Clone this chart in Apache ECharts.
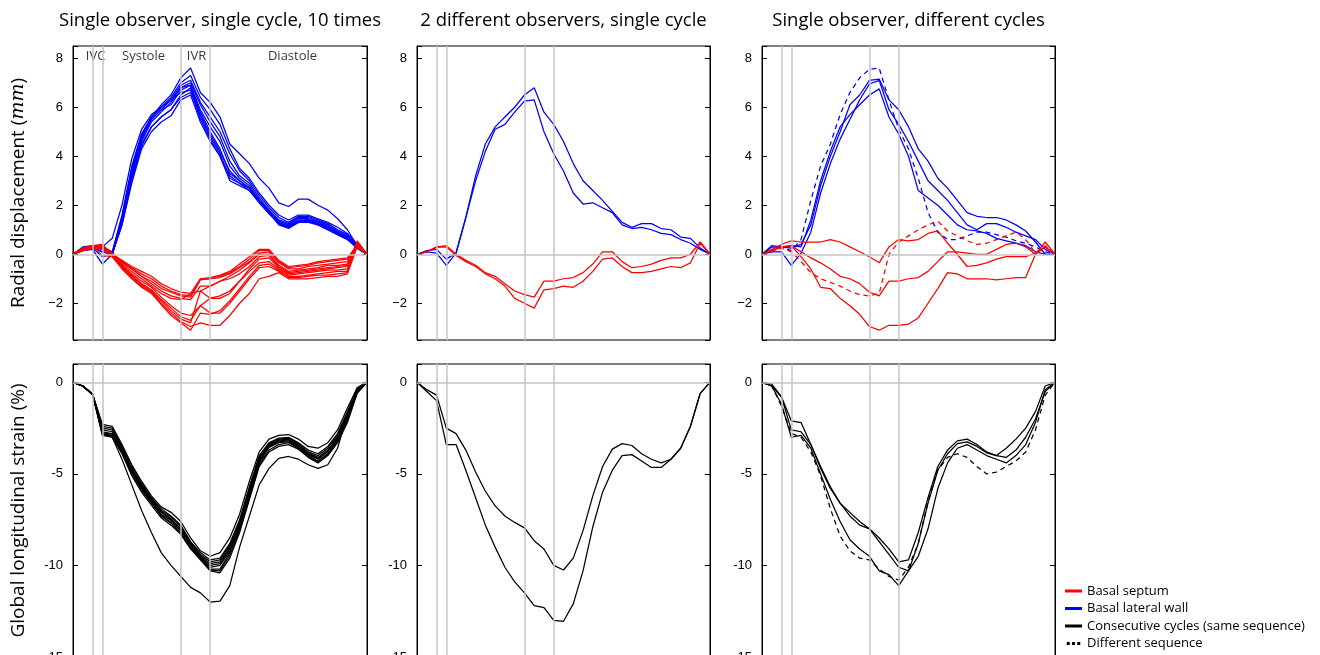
<!DOCTYPE html>
<html>
<head>
<meta charset="utf-8">
<title>Radial displacement and GLS reproducibility</title>
<script src="https://cdn.jsdelivr.net/npm/echarts@6.0.0/dist/echarts.min.js"></script>
<style>
  html, body { margin: 0; padding: 0; background: #fff; }
  #chart { width: 1320px; height: 655px; }
</style>
</head>
<body>
<div id="chart"></div>
<script>
// frame index over one cardiac cycle (x axis has no labels)
var frames = [0,1,2,3,4,5,6,7,8,9,10,11,12,13,14,15,16,17,18,19,20,21,22,23,24,25,26,27,28,29,30];

// phase boundaries (gray vertical lines) and phase names
var phaseMarks = [2, 3, 11, 14];
var phaseNames = ['IVC', 'Systole', 'IVR', 'Diastole'];
var phaseNamePos = [2.3, 7.2, 12.6, 22.4];
var phaseNameY = 8.1;

var panelTitles = ['Single observer, single cycle, 10 times', '2 different observers, single cycle', 'Single observer, different cycles'];

// ---- radial displacement (mm), single observer, single cycle, 10 times
var lateralRepeat = [
  [0,0.25,0.3,0.3,0.1,1.6,3.6,4.9,5.6,6.1,6.5,7.2,7.6,6.6,6.2,5.6,4.5,4.1,3.7,3.1,2.7,2.1,1.95,2.25,2.25,2.0,1.8,1.45,1.0,0.35,0],
  [0,0.3,0.35,0.35,0.0,1.5,3.5,4.8,5.6,6.0,6.4,7.0,7.3,6.4,5.9,5.3,4.3,3.5,3.1,2.5,2.0,1.6,1.4,1.6,1.6,1.45,1.3,1.1,0.85,0.4,0],
  [0,0.2,0.3,0.3,0.05,1.4,3.3,4.7,5.5,5.9,6.3,6.9,7.1,6.2,5.6,5.0,4.1,3.4,3.0,2.4,1.9,1.5,1.3,1.55,1.55,1.4,1.25,1.0,0.8,0.35,0],
  [0,0.25,0.3,0.1,0.0,1.3,3.2,4.6,5.4,5.8,6.2,6.8,7.0,6.1,5.4,4.8,3.8,3.2,2.9,2.3,1.8,1.4,1.25,1.5,1.5,1.35,1.2,0.95,0.75,0.3,0],
  [0,0.2,0.25,-0.1,0.0,1.4,3.4,4.8,5.5,5.9,6.1,6.7,6.9,5.9,5.2,4.6,3.6,3.1,2.8,2.2,1.75,1.35,1.2,1.45,1.45,1.3,1.15,0.9,0.7,0.3,0],
  [0,0.15,0.2,-0.4,0.0,1.2,3.0,4.4,5.2,5.6,5.9,6.5,6.8,5.8,5.0,4.3,3.3,3.0,2.7,2.2,1.7,1.3,1.15,1.4,1.4,1.3,1.1,0.9,0.7,0.3,0],
  [0,0.2,0.3,0.25,0.05,1.5,3.5,4.9,5.6,6.0,6.3,6.8,6.9,5.6,4.8,4.1,3.1,2.9,2.6,2.1,1.65,1.25,1.1,1.35,1.35,1.25,1.05,0.85,0.65,0.3,0],
  [0,0.25,0.3,0.3,0.65,2.0,3.9,5.1,5.7,6.0,6.3,6.6,6.7,5.5,4.7,4.0,3.0,2.8,2.6,2.15,1.7,1.25,1.1,1.35,1.4,1.25,1.05,0.85,0.65,0.25,0],
  [0,0.2,0.3,0.2,0.0,1.3,3.1,4.5,5.2,5.6,5.9,6.4,6.6,5.7,4.9,4.2,3.4,3.0,2.7,2.2,1.7,1.2,1.05,1.3,1.3,1.2,1.0,0.8,0.6,0.25,0],
  [0,0.15,0.25,0.1,0.0,1.2,2.9,4.3,5.0,5.4,5.65,6.3,6.5,5.4,4.6,4.0,3.2,2.9,2.7,2.2,1.8,1.3,1.1,1.3,1.35,1.2,1.0,0.8,0.6,0.25,0]
];
var septumRepeat = [
  [0,0.2,0.3,0.35,0.0,-0.25,-0.5,-0.7,-0.9,-1.2,-1.4,-1.55,-1.6,-1.0,-0.95,-0.85,-0.7,-0.4,-0.1,0.2,0.2,-0.25,-0.5,-0.45,-0.4,-0.3,-0.25,-0.2,-0.15,0.35,0],
  [0,0.2,0.3,0.3,0.0,-0.3,-0.55,-0.8,-1.0,-1.3,-1.5,-1.65,-1.7,-1.0,-1.0,-0.9,-0.75,-0.5,-0.2,0.15,0.15,-0.3,-0.55,-0.5,-0.45,-0.35,-0.3,-0.25,-0.2,0.4,0],
  [0,0.15,0.3,0.35,0.05,-0.3,-0.6,-0.9,-1.1,-1.4,-1.55,-1.7,-1.75,-1.05,-1.0,-0.95,-0.8,-0.55,-0.3,0.05,0.1,-0.35,-0.6,-0.6,-0.5,-0.45,-0.4,-0.35,-0.3,0.4,0],
  [0,0.2,0.35,0.4,0.0,-0.35,-0.6,-0.9,-1.2,-1.5,-1.7,-1.8,-1.85,-1.3,-1.3,-1.1,-0.9,-0.65,-0.35,0.0,0.0,-0.45,-0.7,-0.65,-0.6,-0.55,-0.45,-0.45,-0.4,0.45,0],
  [0,0.25,0.35,0.3,-0.05,-0.4,-0.7,-1.0,-1.3,-1.6,-1.8,-1.85,-1.6,-1.5,-1.8,-1.8,-1.6,-1.1,-0.6,-0.2,-0.15,-0.55,-0.8,-0.75,-0.7,-0.65,-0.6,-0.55,-0.5,0.5,0],
  [0,0.2,0.3,0.25,-0.05,-0.45,-0.8,-1.1,-1.35,-1.75,-2.1,-2.4,-2.5,-2.1,-1.8,-1.7,-1.5,-1.1,-0.7,-0.35,-0.3,-0.6,-0.85,-0.8,-0.75,-0.7,-0.65,-0.65,-0.6,0.45,0],
  [0,0.15,0.25,0.2,-0.1,-0.5,-0.85,-1.2,-1.45,-1.85,-2.2,-2.55,-2.7,-2.1,-2.4,-2.4,-2.0,-1.5,-1.0,-0.55,-0.5,-0.7,-0.9,-0.9,-0.85,-0.8,-0.75,-0.7,-0.7,0.4,0],
  [0,0.2,0.3,0.3,-0.05,-0.5,-0.9,-1.25,-1.5,-1.9,-2.3,-2.65,-2.8,-1.5,-1.3,-1.1,-1.0,-0.8,-0.5,-0.1,-0.05,-0.5,-0.75,-0.7,-0.65,-0.6,-0.55,-0.5,-0.45,0.5,0],
  [0,0.25,0.35,0.35,-0.05,-0.55,-0.95,-1.3,-1.55,-2.0,-2.4,-2.75,-2.95,-2.8,-2.9,-2.9,-2.5,-2.0,-1.6,-1.0,-0.9,-0.75,-1.0,-1.0,-1.0,-0.95,-0.9,-0.9,-0.8,0.3,0],
  [0,0.2,0.3,-0.05,-0.1,-0.6,-1.0,-1.35,-1.6,-2.05,-2.5,-2.8,-3.1,-2.4,-2.45,-2.3,-1.9,-1.4,-0.9,-0.45,-0.4,-0.65,-0.95,-0.95,-0.9,-0.85,-0.85,-0.8,-0.75,0.55,0]
];

// ---- radial displacement (mm), 2 different observers
var lateralObservers = [
  [0,0.15,0.2,-0.2,0.05,1.5,3.2,4.5,5.2,5.6,6.0,6.5,6.8,5.8,5.3,4.6,3.7,3.0,2.6,2.2,1.75,1.3,1.1,1.25,1.25,1.05,1.0,0.7,0.65,0.25,0],
  [0,0.1,0.05,-0.45,0.05,1.5,3.0,4.2,5.1,5.3,5.8,6.25,6.3,5.0,4.1,3.4,2.5,2.05,2.1,1.9,1.7,1.2,1.05,1.1,1.0,0.85,0.8,0.6,0.45,0.2,0]
];
var septumObservers = [
  [0,0.1,0.3,0.35,0.0,-0.25,-0.45,-0.75,-0.9,-1.2,-1.5,-1.65,-1.75,-1.1,-1.1,-1.0,-0.95,-0.75,-0.4,0.1,0.1,-0.3,-0.55,-0.5,-0.4,-0.25,-0.15,-0.15,0.0,0.5,0],
  [0,0.1,0.28,0.3,-0.05,-0.3,-0.5,-0.8,-1.0,-1.3,-1.8,-2.0,-2.2,-1.45,-1.4,-1.3,-1.35,-1.1,-0.7,-0.2,-0.15,-0.5,-0.75,-0.75,-0.7,-0.6,-0.5,-0.55,-0.35,0.45,0]
];

// ---- radial displacement (mm), single observer, different cycles
var lateralCycles = [
  [0,0.35,0.3,0.25,0.4,1.2,2.8,4.0,5.0,6.1,6.5,7.1,7.15,6.3,5.9,5.2,4.3,3.8,3.1,2.7,2.2,1.7,1.55,1.5,1.5,1.4,1.2,0.95,0.5,0.0,0],
  [0,0.1,0.1,-0.45,0.05,0.9,2.5,3.7,4.7,5.5,6.3,6.95,7.1,5.9,5.3,4.6,3.8,3.0,2.6,2.2,1.7,1.2,1.0,1.25,1.25,1.1,0.9,0.75,0.6,0.2,0],
  [0,0.3,0.25,0.35,0.3,1.4,3.0,4.2,5.2,5.7,6.1,6.5,6.75,5.6,4.9,4.0,2.6,2.3,2.0,1.6,1.2,1.0,0.95,0.85,0.65,0.55,0.45,0.35,0.1,0.0,0]
];
var lateralOtherSeq = [0,0.15,0.3,0.15,0.6,2.2,3.6,4.5,5.7,6.6,7.2,7.55,7.6,6.3,5.1,4.3,3.1,1.7,0.9,0.6,0.6,0.75,0.9,0.9,0.8,0.7,0.55,0.45,0.3,0.1,0];
var septumCycles = [
  [0,0.2,0.4,0.55,0.5,0.5,0.5,0.6,0.5,0.3,0.1,-0.1,-0.35,0.3,0.6,0.55,0.6,0.85,0.95,0.45,0.0,-0.5,-0.45,-0.35,-0.2,-0.1,-0.1,-0.1,0.05,0.3,0],
  [0,0.15,0.3,0.35,0.1,-0.15,-0.35,-0.6,-0.9,-1.0,-1.2,-1.55,-1.7,-1.1,-1.1,-1.0,-0.95,-0.7,-0.3,0.1,0.1,0.05,0.0,0.0,0.2,0.4,0.45,0.3,0.0,0.5,0],
  [0,0.15,0.3,0.35,-0.1,-0.6,-1.35,-1.4,-1.8,-2.1,-2.45,-2.95,-3.1,-2.9,-2.9,-2.85,-2.6,-2.0,-1.4,-0.75,-0.8,-1.0,-1.0,-1.0,-1.05,-1.0,-0.95,-0.95,0.0,0.3,0]
];
var septumOtherSeq = [0,0.1,0.25,0.1,-0.3,-0.75,-1.0,-1.15,-1.3,-1.5,-1.65,-1.7,-1.6,0.0,0.5,0.75,1.0,1.2,1.35,0.95,0.75,0.55,0.4,0.45,0.6,0.75,0.9,0.6,0.05,0.35,0];

// ---- global longitudinal strain (%)
var strainRepeat = [
  [0,-0.2,-0.65,-2.3,-2.4,-3.4,-4.5,-5.4,-6.2,-6.8,-7.1,-7.6,-8.5,-9.2,-9.5,-9.3,-8.5,-7.2,-5.4,-3.8,-3.1,-2.9,-2.85,-3.1,-3.5,-3.6,-3.3,-2.6,-1.4,-0.3,0],
  [0,-0.2,-0.65,-2.4,-2.5,-3.5,-4.6,-5.5,-6.3,-6.9,-7.3,-7.8,-8.7,-9.3,-9.7,-9.6,-8.8,-7.5,-5.7,-4.0,-3.3,-3.05,-3.0,-3.3,-3.7,-3.9,-3.5,-2.8,-1.6,-0.35,0],
  [0,-0.2,-0.65,-2.5,-2.6,-3.55,-4.7,-5.6,-6.35,-7.0,-7.35,-7.9,-8.75,-9.4,-9.8,-9.7,-8.9,-7.6,-5.8,-4.1,-3.35,-3.1,-3.05,-3.35,-3.8,-4.0,-3.6,-2.9,-1.7,-0.4,0],
  [0,-0.2,-0.65,-2.6,-2.7,-3.6,-4.75,-5.65,-6.4,-7.05,-7.45,-8.0,-8.8,-9.45,-9.9,-9.8,-9.0,-7.7,-5.9,-4.15,-3.4,-3.15,-3.1,-3.4,-3.85,-4.1,-3.7,-3.0,-1.8,-0.45,0],
  [0,-0.2,-0.65,-2.7,-2.8,-3.7,-4.8,-5.7,-6.45,-7.1,-7.5,-8.05,-8.85,-9.5,-10.0,-9.9,-9.1,-7.8,-6.0,-4.2,-3.45,-3.2,-3.15,-3.45,-3.9,-4.15,-3.75,-3.05,-1.85,-0.45,0],
  [0,-0.2,-0.65,-2.75,-2.85,-3.75,-4.85,-5.75,-6.5,-7.2,-7.55,-8.1,-8.9,-9.55,-10.1,-10.0,-9.2,-7.9,-6.1,-4.3,-3.5,-3.25,-3.2,-3.5,-3.95,-4.2,-3.8,-3.1,-1.9,-0.5,0],
  [0,-0.2,-0.65,-2.8,-2.9,-3.8,-4.9,-5.8,-6.55,-7.25,-7.65,-8.2,-9.0,-9.6,-10.2,-10.2,-9.3,-8.0,-6.2,-4.4,-3.55,-3.3,-3.25,-3.55,-4.0,-4.3,-3.9,-3.2,-2.0,-0.5,0],
  [0,-0.2,-0.65,-2.85,-2.95,-3.85,-5.0,-5.9,-6.6,-7.3,-7.7,-8.25,-9.05,-9.65,-10.25,-10.3,-9.45,-8.1,-6.3,-4.5,-3.7,-3.4,-3.3,-3.6,-4.05,-4.35,-3.95,-3.25,-2.1,-0.55,0],
  [0,-0.2,-0.7,-2.9,-3.0,-3.9,-5.1,-6.0,-6.7,-7.4,-7.8,-8.3,-9.1,-9.7,-10.3,-10.4,-9.6,-8.2,-6.4,-4.6,-3.8,-3.5,-3.4,-3.65,-4.1,-4.4,-4.0,-3.3,-2.2,-0.6,0],
  [0,-0.2,-0.65,-2.8,-3.0,-4.2,-5.6,-7.0,-8.2,-9.3,-10.0,-10.6,-11.2,-11.5,-12.0,-11.95,-11.1,-9.0,-7.3,-5.6,-4.7,-4.15,-4.05,-4.2,-4.5,-4.7,-4.5,-3.6,-1.7,-0.3,0]
];
var strainObservers = [
  [0,-0.4,-0.7,-2.5,-2.8,-3.7,-4.9,-5.95,-6.75,-7.3,-7.65,-7.95,-8.65,-9.1,-10.0,-10.25,-9.6,-8.1,-6.2,-4.6,-3.65,-3.35,-3.45,-3.9,-4.2,-4.4,-4.2,-3.6,-2.4,-0.6,0],
  [0,-0.5,-1.0,-3.4,-3.4,-4.8,-6.3,-7.8,-9.0,-10.1,-10.9,-11.5,-12.2,-12.3,-13.0,-13.05,-12.1,-10.3,-7.9,-6.0,-4.8,-4.0,-3.95,-4.3,-4.65,-4.65,-4.2,-3.6,-2.4,-0.6,0]
];
var strainCycles = [
  [0,-0.2,-0.8,-2.1,-2.2,-3.4,-4.6,-5.7,-6.6,-7.1,-7.6,-8.0,-8.5,-9.1,-9.8,-9.7,-8.2,-6.3,-4.6,-3.7,-3.2,-3.1,-3.4,-3.8,-4.0,-3.6,-3.1,-2.5,-1.6,-0.2,0],
  [0,-0.1,-0.8,-2.6,-2.7,-3.4,-4.7,-5.8,-6.6,-7.3,-7.8,-8.0,-8.7,-9.4,-10.1,-10.3,-8.8,-6.6,-4.8,-3.9,-3.35,-3.25,-3.5,-3.85,-4.0,-4.1,-3.7,-3.0,-2.0,-0.5,0],
  [0,-0.2,-1.2,-3.0,-2.9,-3.6,-5.0,-6.4,-7.6,-8.6,-9.1,-9.5,-10.3,-10.5,-11.1,-10.3,-9.5,-8.0,-5.8,-4.4,-3.6,-3.4,-3.7,-4.0,-4.2,-4.4,-4.0,-3.4,-2.2,-0.4,0]
];
var strainOtherSeq = [0,-0.2,-1.3,-2.8,-3.0,-3.8,-5.1,-6.9,-8.4,-9.2,-9.6,-9.7,-10.2,-10.6,-10.8,-10.1,-8.8,-6.5,-4.8,-4.1,-3.9,-4.1,-4.6,-5.0,-4.9,-4.6,-4.3,-3.8,-2.6,-0.7,0];

var RED = '#ff0000', BLUE = '#0000ff', BLACK = '#000000';
var SEPTUM = 'Basal septum', LATERAL = 'Basal lateral wall';
var SAME = 'Consecutive cycles (same sequence)', OTHER = 'Different sequence';

var panels = [
  { left: 73, top: 46, width: 294, height: 294 },
  { left: 417, top: 46, width: 293, height: 294 },
  { left: 762, top: 46, width: 293, height: 294 },
  { left: 73, top: 364, width: 294, height: 293 },
  { left: 417, top: 364, width: 293, height: 293 },
  { left: 762, top: 364, width: 293, height: 293 }
];

var chart = echarts.init(document.getElementById('chart'));

function fmtDisp(v) {
  if (Math.abs(v % 2) > 1e-9) return '';
  return v < 0 ? '\u2212' + (-v) : String(v);
}
function fmtStrain(v) {
  return Math.abs(v % 5) > 1e-9 ? '' : String(v);
}

function curve(name, vals, g, color, dashed) {
  return {
    type: 'line', name: name, xAxisIndex: g, yAxisIndex: g * 2,
    data: frames.map(function (f, k) { return [f, vals[k]]; }),
    symbol: 'none', showSymbol: false, silent: true, z: 3,
    lineStyle: { color: color, width: 1.25, type: dashed ? [5, 4] : 'solid' },
    itemStyle: { color: color }
  };
}

var grids = [], xAxes = [], yAxes = [], series = [];
panels.forEach(function (p, g) {
  var top = g < 3;
  grids.push({ left: p.left, top: p.top, width: p.width, height: p.height, show: true,
    borderColor: '#000', borderWidth: 1, containLabel: false, outerBoundsMode: 'none' });
  xAxes.push({ type: 'value', gridIndex: g, min: 0, max: 30, axisLine: { show: false }, axisTick: { show: false }, axisLabel: { show: false }, splitLine: { show: false } });
  var scale = top ? { min: -3.5, max: 8.5, splitNumber: 6 } : { min: -15, max: 1, interval: 5 };
  var left = Object.assign({
    type: 'value', gridIndex: g, position: 'left',
    axisLine: { show: true, lineStyle: { color: '#000', width: 1 } },
    axisTick: { show: true, inside: true, length: 5, lineStyle: { color: '#000' } },
    axisLabel: { margin: 10, color: '#000', fontSize: 13, fontFamily: 'Liberation Sans', formatter: top ? fmtDisp : fmtStrain },
    splitLine: { show: false }
  }, scale);
  if (g === 0) {
    left.name = 'Radial displacement ({it|mm})';
  } else if (g === 3) {
    left.name = 'Global longitudinal strain (%)';
  }
  if (g === 0 || g === 3) {
    left.nameLocation = 'middle';
    left.nameGap = 45;
    left.nameRotate = 90;
    left.nameTextStyle = { fontSize: 19, fontFamily: 'Open Sans', color: '#000',
      rich: { it: { fontSize: 19, fontStyle: 'italic', fontFamily: 'DejaVu Serif', color: '#000' } } };
  }
  yAxes.push(left);
  yAxes.push(Object.assign({
    type: 'value', gridIndex: g, position: 'right',
    axisLine: { show: true, lineStyle: { color: '#000', width: 1 } },
    axisTick: { show: true, inside: true, length: 5, lineStyle: { color: '#000' } },
    axisLabel: { show: false }, splitLine: { show: false }
  }, scale));
  // gray phase lines and zero line
  series.push({
    type: 'line', xAxisIndex: g, yAxisIndex: g * 2, data: [], z: 1, silent: true,
    markLine: {
      silent: true, symbol: 'none', label: { show: false }, animation: false,
      lineStyle: { color: '#c4c4c4', width: 1.5, type: 'solid' },
      data: phaseMarks.map(function (x) { return { xAxis: x }; }).concat([{ yAxis: 0 }])
    }
  });
});

// panel 1
lateralRepeat.forEach(function (d) { series.push(curve(LATERAL, d, 0, BLUE)); });
septumRepeat.forEach(function (d) { series.push(curve(SEPTUM, d, 0, RED)); });
// panel 2
lateralObservers.forEach(function (d) { series.push(curve(LATERAL, d, 1, BLUE)); });
septumObservers.forEach(function (d) { series.push(curve(SEPTUM, d, 1, RED)); });
// panel 3
lateralCycles.forEach(function (d) { series.push(curve(LATERAL, d, 2, BLUE)); });
series.push(curve(LATERAL, lateralOtherSeq, 2, BLUE, true));
septumCycles.forEach(function (d) { series.push(curve(SEPTUM, d, 2, RED)); });
series.push(curve(SEPTUM, septumOtherSeq, 2, RED, true));
// strain panels
strainRepeat.forEach(function (d) { series.push(curve(SAME, d, 3, BLACK)); });
strainObservers.forEach(function (d) { series.push(curve(SAME, d, 4, BLACK)); });
strainCycles.forEach(function (d) { series.push(curve(SAME, d, 5, BLACK)); });
series.push(curve(OTHER, strainOtherSeq, 5, BLACK, true));

// phase names in first panel
series.push({
  type: 'scatter', xAxisIndex: 0, yAxisIndex: 0, symbolSize: 1, silent: true, z: 4,
  itemStyle: { color: 'rgba(0,0,0,0)' },
  data: phaseNames.map(function (n, k) { return { name: n, value: [phaseNamePos[k], phaseNameY] }; }),
  label: { show: true, position: 'inside', formatter: '{b}', color: '#000', fontSize: 13, fontFamily: 'Open Sans' }
});

var option = {
  animation: false,
  backgroundColor: '#fff',
  grid: grids,
  xAxis: xAxes,
  yAxis: yAxes,
  series: series,
  legend: {
    orient: 'vertical', left: 1065, top: 584, padding: 0,
    itemWidth: 17, itemHeight: 3, itemGap: 3.5, itemTextGap: 8,
    selectedMode: false,
    textStyle: { fontSize: 13, lineHeight: 14, fontFamily: 'Open Sans', color: '#000' },
    data: [
      { name: SEPTUM, icon: 'rect' },
      { name: LATERAL, icon: 'rect' },
      { name: SAME, icon: 'rect' },
      { name: OTHER, icon: 'path://M0,0h4v4h-4z M7,0h4v4h-4z M14,0h4v4h-4z' }
    ]
  },
  graphic: panelTitles.map(function (t, k) {
    var p = panels[k];
    return { type: 'text', x: p.left + p.width / 2, y: 21,
      style: { text: t, fontSize: 18.5, fontFamily: 'Open Sans', fill: '#000', align: 'center', verticalAlign: 'middle' } };
  })
};
chart.setOption(option);
</script>
</body>
</html>
